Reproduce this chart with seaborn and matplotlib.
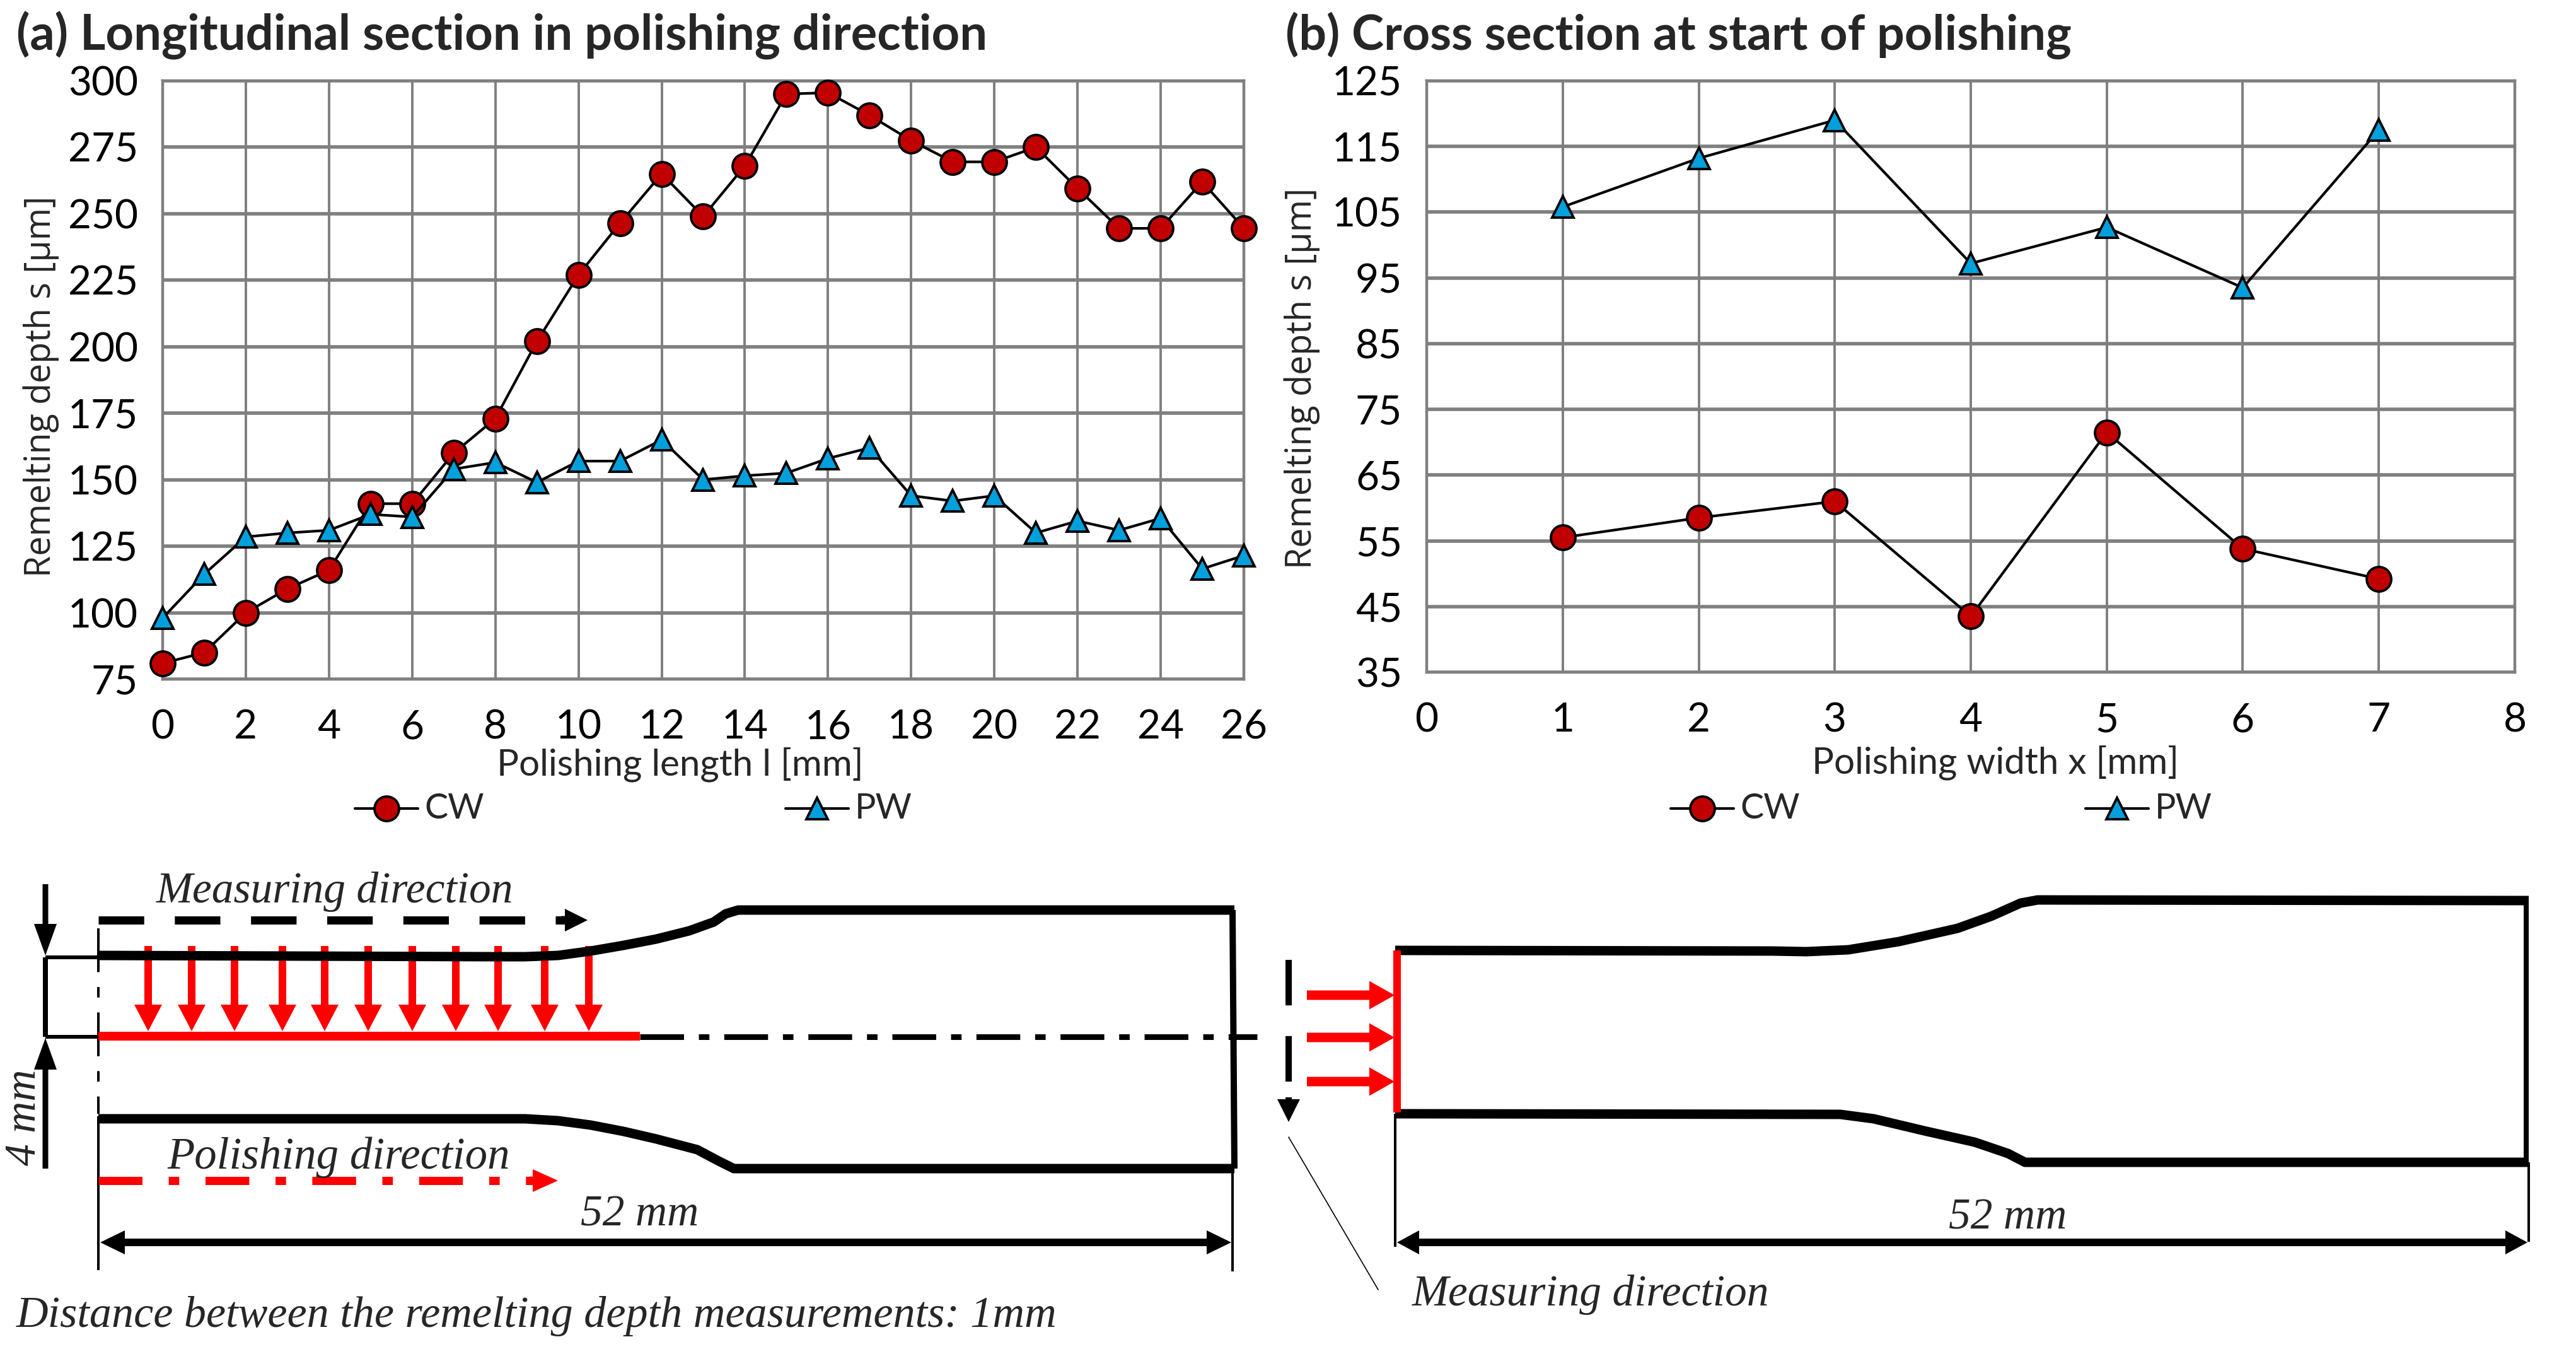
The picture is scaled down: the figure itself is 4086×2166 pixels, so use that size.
#plot.py - remelting depth charts with the specimen sketches underneath
import matplotlib
matplotlib.use('Agg')
import matplotlib.pyplot as plt
import seaborn as sns
import pandas as pd

W, H = 4087, 2166

# panel (a) values
length_mm = list(range(27))
a_cw = [81, 85, 100, 109, 116, 141, 141, 160, 173, 202, 227, 246.5, 265, 249, 268, 295, 295.5,
        287, 277.5, 269.5, 269.5, 275, 259.5, 244.5, 244.5, 262, 244.5]
a_pw = [98, 114.5, 128.5, 130, 131, 137, 136, 154, 156.5, 149, 157, 157, 165, 150, 151.5, 152.5, 158,
        162, 144, 142, 144, 130, 134.5, 131, 135.5, 116.5, 121.5]
a_xticks = list(range(0, 27, 2))
a_yticks = list(range(75, 301, 25))

# panel (b) values
width_mm = [1, 2, 3, 4, 5, 6, 7]
b_cw = [55.5, 58.5, 61, 43.5, 71.5, 53.8, 49.2]
b_pw = [105.8, 113.2, 119, 97.2, 102.7, 93.5, 117.5]
b_xticks = list(range(0, 9))
b_yticks = list(range(35, 126, 10))

# sketch outlines, in pixels of the picture
left_top = [(156, 1515), (781, 1517), (833, 1517), (885, 1515), (937, 1508), (989, 1499), (1041, 1489),
            (1093, 1476), (1132, 1462), (1151, 1449), (1171, 1443), (1958, 1443)]
left_bot = [(156, 1774), (833, 1774), (885, 1777), (937, 1784), (989, 1794), (1041, 1806), (1106, 1823),
            (1138, 1840), (1164, 1853), (1958, 1853)]
right_top = [(2213, 1507), (2812, 1508), (2865, 1509), (2932, 1506), (3012, 1493), (3105, 1472), (3158, 1453),
             (3205, 1432), (3232, 1427), (4011, 1428)]
right_bot = [(2213, 1766), (2919, 1767), (2972, 1774), (3052, 1793), (3132, 1811), (3185, 1829), (3212, 1843),
             (4011, 1843)]
red_down_x = [235, 304, 372, 448, 515, 584, 654, 723, 790, 864, 934]
red_right_y = [1578, 1645, 1715]

RED = '#C00000'
BLUE = '#00A0DC'
GRID = '#7F7F7F'

sns.set_theme(style='white')
plt.rcParams['font.family'] = ['Lato', 'DejaVu Sans']
plt.rcParams['lines.scale_dashes'] = False

fig = plt.figure(figsize=(W / 100, H / 100), dpi=100, facecolor='white')


def px_axes(x0, y0, x1, y1):
    return fig.add_axes([x0 / W, 1 - y1 / H, (x1 - x0) / W, (y1 - y0) / H])


def draw_chart(ax, x, cw, pw, xticks, yticks):
    df = pd.DataFrame({'x': list(x) * 2, 'depth': list(cw) + list(pw),
                       'series': ['CW'] * len(x) + ['PW'] * len(x)})
    sns.lineplot(data=df, x='x', y='depth', hue='series', style='series',
                 palette={'CW': 'black', 'PW': 'black'},
                 markers={'CW': 'o', 'PW': '^'}, dashes=False, ax=ax, legend=False,
                 linewidth=3, clip_on=False, zorder=5)
    for line, c, s in zip(ax.get_lines(), [RED, BLUE], [28, 25]):
        line.set_markerfacecolor(c)
        line.set_markeredgecolor('black')
        line.set_markeredgewidth(2.8)
        line.set_markersize(s)
    ax.set_xlim(xticks[0], xticks[-1])
    ax.set_ylim(yticks[0], yticks[-1])
    ax.set_xticks(xticks)
    ax.set_yticks(yticks)
    ax.grid(True, axis='y', color=GRID, linewidth=4)
    ax.grid(True, axis='x', color=GRID, linewidth=2.8)
    ax.set_axisbelow(True)
    for side in ax.spines.values():
        side.set_color(GRID)
        side.set_linewidth(3.2)
    ax.tick_params(axis='x', labelsize=46, pad=34, length=0, colors='black')
    ax.tick_params(axis='y', labelsize=46, pad=28, length=0, colors='black')
    ax.set_xlabel('')
    ax.set_ylabel('')


ax_a = px_axes(258, 128, 1973, 1077)
draw_chart(ax_a, length_mm, a_cw, a_pw, a_xticks, a_yticks)
ax_b = px_axes(2263, 128, 3989, 1066)
draw_chart(ax_b, width_mm, b_cw, b_pw, b_xticks, b_yticks)

# overlay in picture pixels for titles, legends and the sketches
ov = fig.add_axes([0, 0, 1, 1], zorder=10)
ov.set_xlim(0, W)
ov.set_ylim(H, 0)
ov.axis('off')
ov.patch.set_alpha(0)


def thick(points, lw=15, color='black'):
    xs, ys = zip(*points)
    ov.plot(xs, ys, color=color, linewidth=lw * 0.72, solid_capstyle='butt', solid_joinstyle='round')


def arrow(x0, y0, x1, y1, width, head_w, head_l, color='black'):
    ov.arrow(x0, y0, x1 - x0, y1 - y0, width=width, head_width=head_w, head_length=head_l,
             length_includes_head=True, color=color, linewidth=0)


def dashed(x0, y0, x1, y1, lw, pattern, color='black'):
    ov.plot([x0, x1], [y0, y1], color=color, linewidth=lw * 0.72, linestyle=(0, pattern), dash_capstyle='butt')


# titles and axis texts
ov.text(26, 56, '(a) Longitudinal section in polishing direction', fontsize=56, fontweight='bold',
        va='center', ha='left')
ov.text(2039, 56, '(b) Cross section at start of polishing', fontsize=55.5, fontweight='bold',
        va='center', ha='left')
ov.text(1079, 1212, 'Polishing length l [mm]', fontsize=42, ha='center', va='center')
ov.text(3165, 1209, 'Polishing width x [mm]', fontsize=42, ha='center', va='center')
ov.text(65, 613, 'Remelting depth s [µm]', fontsize=40, rotation=90, ha='center', va='center',
        family=['Open Sans', 'DejaVu Sans'])
ov.text(2065, 600, 'Remelting depth s [µm]', fontsize=40, rotation=90, ha='center', va='center',
        family=['Open Sans', 'DejaVu Sans'])

# legends
for cx, name, mk, col, ms in [(613, 'CW', 'o', RED, 28), (1296, 'PW', '^', BLUE, 25),
                              (2700, 'CW', 'o', RED, 28), (3358, 'PW', '^', BLUE, 25)]:
    ov.plot([cx - 50, cx + 50], [1282, 1282], color='black', linewidth=3)
    ov.plot([cx], [1282], marker=mk, markersize=ms, markerfacecolor=col, markeredgecolor='black',
            markeredgewidth=2.8, linestyle='none')
    ov.text(cx + 60, 1282, name, fontsize=40, ha='left', va='center')

# left sketch
thick(left_top)
thick(left_bot)
thick([(1955, 1443), (1958, 1853)], lw=10)
thick([(72, 1518), (72, 1644)], lw=8)
thick([(72, 1518), (156, 1518)], lw=6)
thick([(72, 1644), (156, 1644)], lw=6)
arrow(72, 1402, 72, 1515, 9, 36, 50)
arrow(72, 1853, 72, 1646, 9, 36, 50)
dashed(1015, 1644, 1994, 1644, 9, (50, 17, 12, 17))
dashed(156, 1472, 156, 1766, 4, (50, 17, 12, 17))
thick([(156, 1770), (156, 2014)], lw=4)
thick([(1955, 1853), (1955, 2016)], lw=4)
thick([(156, 1643), (1015, 1643)], lw=14, color='#FF0000')
for x in red_down_x:
    arrow(x, 1500, x, 1635, 12, 44, 42, color='#FF0000')
dashed(156, 1459, 898, 1459, 13, (52, 35))
arrow(890, 1459, 932, 1459, 13, 36, 36)
dashed(156, 1872, 846, 1872, 13, (50, 30, 12, 30), color='#FF0000')
arrow(840, 1872, 885, 1872, 13, 36, 40, color='#FF0000')
arrow(1000, 1970, 159, 1970, 12, 38, 39)
arrow(1000, 1970, 1953, 1970, 12, 38, 39)

# right sketch
thick(right_top)
thick(right_bot)
thick([(4007, 1428), (4007, 1843)], lw=8)
thick([(2213, 1766), (2213, 1977)], lw=4)
thick([(4011, 1843), (4011, 1969)], lw=4)
thick([(2216, 1507), (2216, 1764)], lw=12, color='#FF0000')
for y in red_right_y:
    arrow(2073, y, 2212, y, 15, 45, 40, color='#FF0000')
dashed(2044, 1522, 2044, 1745, 10, (52, 35))
arrow(2044, 1740, 2044, 1779, 10, 36, 36)
ov.plot([2044, 2186], [1803, 2045], color='black', linewidth=1.2)
arrow(3000, 1970, 2216, 1970, 12, 38, 35)
arrow(3000, 1970, 4009, 1970, 12, 38, 35)

# italic notes
note = dict(family=['Liberation Serif', 'DejaVu Serif'], style='italic', va='center')
ov.text(531, 1414, 'Measuring direction', fontsize=50, ha='center', **note)
ov.text(537, 1835, 'Polishing direction', fontsize=51, ha='center', **note)
ov.text(1015, 1927, '52 mm', fontsize=50, ha='center', **note)
ov.text(3185, 1932, '52 mm', fontsize=50, ha='center', **note)
ov.text(2523, 2053, 'Measuring direction', fontsize=50, ha='center', **note)
ov.text(39, 1772, '4 mm', fontsize=50, rotation=90, ha='center', **note)
ov.text(26, 2087, 'Distance between the remelting depth measurements: 1mm', fontsize=50.5, ha='left', **note)

fig.savefig('out.png', dpi=100, facecolor='white')
